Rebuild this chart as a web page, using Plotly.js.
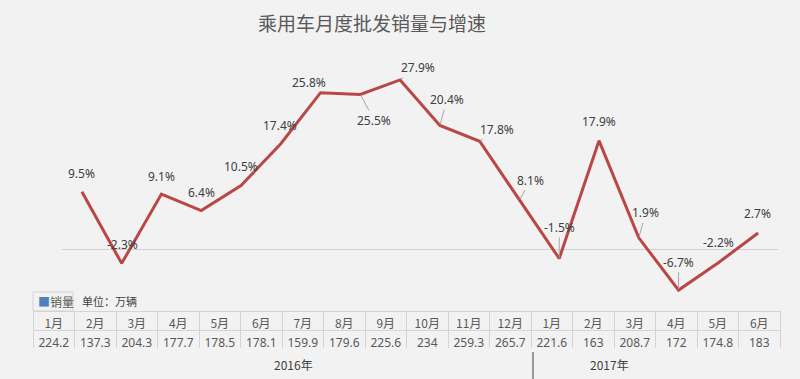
<!DOCTYPE html>
<html>
<head>
<meta charset="utf-8">
<script src="https://cdn.plot.ly/plotly-3.0.1.min.js"></script>
<style>html,body{margin:0;padding:0;background:#f2f2f2;}</style>
</head>
<body>
<div id="chart" style="width:800px;height:379px;"></div>
<script>
// ---- data ----
const months = ["1月","2月","3月","4月","5月","6月","7月","8月","9月","10月","11月","12月","1月","2月","3月","4月","5月","6月"];
const sales = [224.2,137.3,204.3,177.7,178.5,178.1,159.9,179.6,225.6,234,259.3,265.7,221.6,163,208.7,172,174.8,183];
const growth = [9.5,-2.3,9.1,6.4,10.5,17.4,25.8,25.5,27.9,20.4,17.8,8.1,-1.5,17.9,1.9,-6.7,-2.2,2.7];
const years = ["2016年","2017年"];
const titleText = "乘用车月度批发销量与增速";

// ---- label placement (pixels from point to label centre) & leader flags ----
const labelOffsets = [[0,-18],[1,-19],[0,-18],[0,-18],[0,-19],[-1,-18],[-12,-10],[14,26],[18,-12],[7,-26],[17,-12],[11,-20],[0,-31],[0,-19],[7,-25],[0,-28],[0,-20],[-1,-19]];
const leaders = [0,0,0,0,0,0,1,1,1,1,1,1,1,0,1,1,0,0];

const W = 800, H = 379;
const px = v => v / W;
const py = v => 1 - v / H;
const idx = months.map((m, i) => i);

const lineTrace = {
  type: "scatter", mode: "lines",
  x: idx, y: growth,
  line: {color: "#b84745", width: 3},
  hoverinfo: "skip"
};

const tableTrace = {
  type: "table",
  domain: {x: [px(33), px(780)], y: [py(349), py(311)]},
  columnwidth: months.map(() => 1),
  header: {
    values: months,
    height: 19,
    align: "center",
    line: {color: "#d4d4d4", width: 1},
    fill: {color: "#f2f2f2"},
    font: {family: "Noto Sans CJK SC, Noto Sans", size: 12, color: "#595959"}
  },
  cells: {
    values: sales.map(v => [v]),
    height: 19,
    align: "center",
    line: {color: "#d4d4d4", width: 1},
    fill: {color: "#f2f2f2"},
    font: {family: "Noto Sans, Noto Sans CJK SC", size: 12, color: "#595959"}
  }
};

const annotations = growth.map((g, i) => ({
  x: i, y: g, xref: "x", yref: "y",
  text: (g > 0 ? "" : "") + g.toFixed(1) + "%",
  showarrow: true,
  arrowhead: 0,
  arrowwidth: 1,
  arrowcolor: leaders[i] ? "#a6a6a6" : "rgba(0,0,0,0)",
  ax: labelOffsets[i][0], ay: labelOffsets[i][1],
  standoff: 1,
  font: {family: "Noto Sans, DejaVu Sans", size: 12, color: "#404040"}
}));

annotations.push({
  xref: "paper", yref: "paper", x: px(372), y: py(22),
  xanchor: "center", yanchor: "middle", showarrow: false,
  text: titleText,
  font: {family: "Noto Sans CJK SC", size: 19, color: "#595959"}
});
annotations.push({
  xref: "paper", yref: "paper", x: px(36), y: py(301),
  xanchor: "left", yanchor: "middle", showarrow: false,
  text: '<span style="color:#4f81bd">■</span>销量',
  font: {family: "Noto Sans CJK SC", size: 12, color: "#595959"}
});
annotations.push({
  xref: "paper", yref: "paper", x: px(80), y: py(301),
  xanchor: "left", yanchor: "middle", showarrow: false,
  text: "单位：万辆",
  font: {family: "Noto Sans CJK SC", size: 11, color: "#404040"}
});
annotations.push({
  xref: "paper", yref: "paper", x: px(293), y: py(364),
  xanchor: "center", yanchor: "middle", showarrow: false,
  text: years[0],
  font: {family: "Noto Sans CJK SC", size: 12, color: "#404040"}
});
annotations.push({
  xref: "paper", yref: "paper", x: px(609), y: py(364),
  xanchor: "center", yanchor: "middle", showarrow: false,
  text: years[1],
  font: {family: "Noto Sans CJK SC", size: 12, color: "#404040"}
});

const shapes = [
  {type: "rect", xref: "paper", yref: "paper", x0: px(33), x1: px(73), y0: py(311), y1: py(292),
   line: {color: "#d4d4d4", width: 1}},
  {type: "line", xref: "paper", yref: "paper", x0: px(533), x1: px(533), y0: py(352), y1: py(379),
   line: {color: "#404040", width: 1}}
];

const layout = {
  width: W, height: H,
  margin: {l: 0, r: 0, t: 0, b: 0},
  paper_bgcolor: "#f2f2f2",
  plot_bgcolor: "#f2f2f2",
  showlegend: false,
  xaxis: {domain: [px(62), px(778)], range: [-0.5, 17.5], showgrid: false, zeroline: false,
          showticklabels: false, ticks: "", showline: false, fixedrange: true},
  yaxis: {domain: [py(298), py(55)], range: [-8, 32], showgrid: false, zeroline: true,
          zerolinecolor: "#d0d0d0", zerolinewidth: 1, showticklabels: false, ticks: "",
          showline: false, fixedrange: true},
  annotations: annotations,
  shapes: shapes
};

Plotly.newPlot("chart", [lineTrace, tableTrace], layout, {displayModeBar: false, staticPlot: true});
</script>
</body>
</html>
